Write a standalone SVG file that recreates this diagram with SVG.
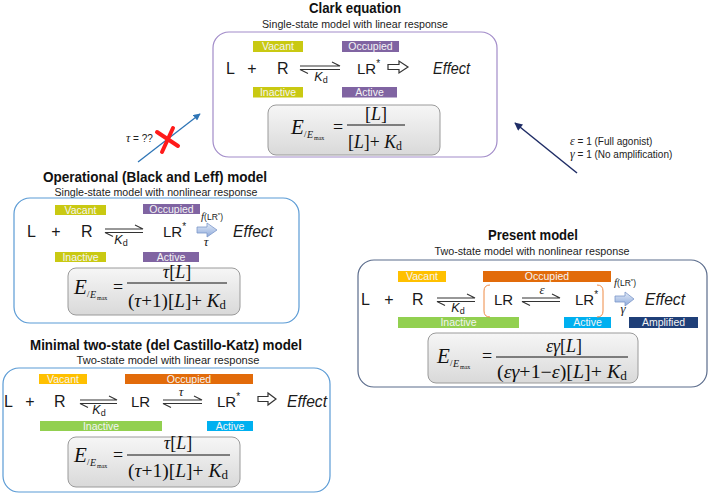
<svg xmlns="http://www.w3.org/2000/svg" width="709" height="494" viewBox="0 0 709 494">
<defs>
<style>
.title{font-family:"Liberation Sans",Arial,sans-serif;font-weight:bold;font-size:15px;fill:#111;text-anchor:middle}
.sub{font-family:"Liberation Sans",Arial,sans-serif;font-size:10.5px;fill:#222;text-anchor:middle}
.lab{font-family:"Liberation Sans",Arial,sans-serif;font-size:10.5px;fill:#f4f4f4;text-anchor:middle}
.row{font-family:"Liberation Sans",Arial,sans-serif;font-size:16px;fill:#1a1a1a}
.lr{font-size:15px}
.mid{text-anchor:middle}
.eff{font-family:"Liberation Sans",Arial,sans-serif;font-style:italic;font-size:17px;fill:#1a1a1a}
.kd{font-family:"Liberation Sans",Arial,sans-serif;font-size:12.5px;fill:#1a1a1a;text-anchor:middle}
.gk{font-family:"Liberation Serif","Times New Roman",serif;font-style:italic;font-size:13px;fill:#1a1a1a;text-anchor:middle}
.fl{font-family:"Liberation Serif","Times New Roman",serif;font-size:10px;fill:#1a1a1a;text-anchor:middle}
.m{font-family:"Liberation Serif","Times New Roman",serif;font-size:18px;fill:#111}
.s9{font-size:9px}
.s10{font-size:10px}
.s6{font-size:6px}
.mE{font-family:"Liberation Serif","Times New Roman",serif;font-style:italic;font-size:21px;fill:#111}
.note{font-family:"Liberation Sans",Arial,sans-serif;font-size:10px;fill:#222}
.eq{fill:none;stroke:#333;stroke-width:1.1}
.fbox{fill:url(#gbox);stroke:#9a9a9a;stroke-width:1}
.hol{fill:#fff;stroke:#333;stroke-width:1.2;stroke-linejoin:miter}
.fat{fill:url(#gfat);stroke:#7c97c9;stroke-width:0.8}
.frac{stroke:#111;stroke-width:1}
.brk{fill:none;stroke:#ee8a45;stroke-width:1}
.i{font-style:italic}
</style>
<linearGradient id="gbox" x1="0" y1="0" x2="0" y2="1">
<stop offset="0" stop-color="#f6f6f6"/>
<stop offset="1" stop-color="#d9d9d9"/>
</linearGradient>
<linearGradient id="gfat" x1="0" y1="0" x2="0" y2="1">
<stop offset="0" stop-color="#e4ecf8"/>
<stop offset="1" stop-color="#8eaadb"/>
</linearGradient>
<marker id="ahB" viewBox="0 0 10 10" refX="9" refY="5" markerWidth="8" markerHeight="7" markerUnits="userSpaceOnUse" orient="auto">
<path d="M0,0 L10,5 L0,10 z" fill="#2e75b6"/>
</marker>
<marker id="ahN" viewBox="0 0 10 10" refX="9" refY="5" markerWidth="9" markerHeight="8" markerUnits="userSpaceOnUse" orient="auto">
<path d="M0,0 L10,5 L0,10 z" fill="#1f2d66"/>
</marker>
</defs>
<rect width="709" height="494" fill="#fff"/>

<!-- Clark equation -->
<g id="clark">
<text class="title" x="355" y="13" textLength="92" lengthAdjust="spacingAndGlyphs">Clark equation</text>
<text class="sub" x="355" y="28" textLength="186" lengthAdjust="spacingAndGlyphs">Single-state model with linear response</text>
<rect x="213" y="32" width="284" height="125" rx="16" fill="none" stroke="#a28cc9" stroke-width="1.2"/>
<rect x="253" y="41" width="50" height="11" fill="#c9c912"/>
<text class="lab" x="278" y="50">Vacant</text>
<rect x="342" y="41" width="57" height="11" fill="#8064a2"/>
<text class="lab" x="370.5" y="50">Occupied</text>
<rect x="253" y="87" width="50" height="10.5" fill="#c9c912"/>
<text class="lab" x="278" y="96">Inactive</text>
<rect x="342" y="87" width="55" height="10.5" fill="#8064a2"/>
<text class="lab" x="369.5" y="96">Active</text>
<text class="row" x="226" y="74">L</text>
<text class="row mid" x="252" y="74">+</text>
<text class="row" x="277" y="74">R</text>
<path class="eq" d="M300,66 L340,66 L332,62 M340,69.5 L300,69.5 L308,73.5"/>
<text class="kd" x="321" y="81"><tspan class="i">K</tspan><tspan font-size="9" dy="2">d</tspan></text>
<text class="row lr" x="357" y="74">LR<tspan font-size="10" dy="-7">*</tspan></text>
<path class="hol" d="M388,64.5 L399,64.5 L399,61 L408,67 L399,73 L399,69.5 L388,69.5 Z"/>
<text class="eff" x="433" y="74" textLength="37" lengthAdjust="spacingAndGlyphs">Effect</text>
<rect class="fbox" x="268" y="105" width="172" height="50" rx="8"/>
<text class="mE" x="291" y="134">E</text>
<text class="m s9" x="304" y="137">/</text>
<text class="m i s10" x="307" y="138">E</text>
<text class="m s6" x="314" y="140">max</text>
<text class="m" x="333" y="133">=</text>
<line class="frac" x1="347" y1="125" x2="405" y2="125"/>
<text class="m mid" x="376" y="120">[<tspan class="i">L</tspan>]</text>
<text class="m" x="348" y="148" textLength="54" lengthAdjust="spacingAndGlyphs">[<tspan class="i">L</tspan>]+ <tspan class="i">K</tspan><tspan font-size="12" dy="2">d</tspan></text>
</g>

<!-- Operational model -->
<g id="operational">
<text class="title" x="155" y="182" textLength="224" lengthAdjust="spacingAndGlyphs">Operational (Black and Leff) model</text>
<text class="sub" x="156" y="196" textLength="203" lengthAdjust="spacingAndGlyphs">Single-state model with nonlinear response</text>
<rect x="14" y="198" width="285" height="125" rx="16" fill="none" stroke="#5b9bd5" stroke-width="1.2"/>
<rect x="55" y="205" width="51" height="10" fill="#c9c912"/>
<text class="lab" x="80.5" y="213.5">Vacant</text>
<rect x="143" y="204" width="57" height="10" fill="#8064a2"/>
<text class="lab" x="171.5" y="212.5">Occupied</text>
<rect x="55" y="252" width="51" height="10" fill="#c9c912"/>
<text class="lab" x="80.5" y="260.5">Inactive</text>
<rect x="143" y="252" width="56" height="10" fill="#8064a2"/>
<text class="lab" x="171" y="260.5">Active</text>
<text class="row" x="27" y="237">L</text>
<text class="row mid" x="56" y="237">+</text>
<text class="row" x="81" y="237">R</text>
<path class="eq" d="M105,229 L143,229 L135,225 M143,232.5 L105,232.5 L113,236.5"/>
<text class="kd" x="121" y="244"><tspan class="i">K</tspan><tspan font-size="9" dy="2">d</tspan></text>
<text class="row lr" x="163" y="237">LR<tspan font-size="10" dy="-7">*</tspan></text>
<text class="fl" x="212" y="220"><tspan class="i" font-size="11">f</tspan><tspan font-family="Liberation Sans, Arial, sans-serif" font-size="8.5">(LR<tspan font-size="6" dy="-3">*</tspan><tspan dy="3">)</tspan></tspan></text>
<path class="fat" d="M197,227 L207,227 L207,223 L217,230 L207,237 L207,233 L197,233 Z"/>
<text class="gk" x="206" y="246">τ</text>
<text class="eff" x="233" y="237" textLength="40" lengthAdjust="spacingAndGlyphs">Effect</text>
<rect class="fbox" x="68" y="268" width="172" height="47" rx="8"/>
<text class="mE" x="74" y="294">E</text>
<text class="m s9" x="87" y="297">/</text>
<text class="m i s10" x="90" y="298">E</text>
<text class="m s6" x="97" y="300">max</text>
<text class="m" x="113" y="293">=</text>
<line class="frac" x1="127" y1="283" x2="227" y2="283"/>
<text class="m mid" x="177" y="278"><tspan class="i">τ</tspan>[<tspan class="i">L</tspan>]</text>
<text class="m" x="128" y="307" textLength="98" lengthAdjust="spacingAndGlyphs">(<tspan class="i">τ</tspan>+1)[<tspan class="i">L</tspan>]+ <tspan class="i">K</tspan><tspan font-size="12" dy="2">d</tspan></text>
</g>

<!-- Minimal two-state model -->
<g id="minimal">
<text class="title" x="166" y="350" textLength="272" lengthAdjust="spacingAndGlyphs">Minimal two-state (del Castillo-Katz) model</text>
<text class="sub" x="168" y="364" textLength="183" lengthAdjust="spacingAndGlyphs">Two-state model with linear response</text>
<rect x="3" y="368" width="327" height="124" rx="16" fill="none" stroke="#5b9bd5" stroke-width="1.2"/>
<rect x="39" y="374" width="48" height="10" fill="#ffc000"/>
<text class="lab" x="63" y="382.5">Vacant</text>
<rect x="125" y="374" width="128" height="10" fill="#e26b0a"/>
<text class="lab" x="189" y="382.5">Occupied</text>
<rect x="40" y="421" width="122" height="10" fill="#92d050"/>
<text class="lab" x="101" y="429.5">Inactive</text>
<rect x="207" y="421" width="46" height="10" fill="#00b0f0"/>
<text class="lab" x="230" y="429.5">Active</text>
<text class="row" x="4" y="407">L</text>
<text class="row mid" x="30" y="407">+</text>
<text class="row" x="54" y="407">R</text>
<path class="eq" d="M80,400 L117,400 L109,396 M117,403.5 L80,403.5 L88,407.5"/>
<text class="kd" x="99" y="414"><tspan class="i">K</tspan><tspan font-size="9" dy="2">d</tspan></text>
<text class="row lr" x="131" y="407">LR</text>
<path class="eq" d="M163,400 L202,400 L194,396 M202,403.5 L163,403.5 L171,407.5"/>
<text class="gk" x="181" y="396">τ</text>
<text class="row lr" x="217" y="407">LR<tspan font-size="10" dy="-7">*</tspan></text>
<path class="hol" d="M258,396.5 L268,396.5 L268,393 L276,399 L268,405 L268,401.5 L258,401.5 Z"/>
<text class="eff" x="287" y="407" textLength="40" lengthAdjust="spacingAndGlyphs">Effect</text>
<rect class="fbox" x="68" y="437" width="172" height="50" rx="8"/>
<text class="mE" x="74" y="462">E</text>
<text class="m s9" x="87" y="465">/</text>
<text class="m i s10" x="90" y="466">E</text>
<text class="m s6" x="97" y="468">max</text>
<text class="m" x="113" y="461">=</text>
<line class="frac" x1="127" y1="455" x2="230" y2="455"/>
<text class="m mid" x="178" y="449"><tspan class="i">τ</tspan>[<tspan class="i">L</tspan>]</text>
<text class="m" x="128" y="477" textLength="100" lengthAdjust="spacingAndGlyphs">(<tspan class="i">τ</tspan>+1)[<tspan class="i">L</tspan>]+ <tspan class="i">K</tspan><tspan font-size="12" dy="2">d</tspan></text>
</g>

<!-- Present model -->
<g id="present">
<text class="title" x="533" y="240" textLength="90" lengthAdjust="spacingAndGlyphs">Present model</text>
<text class="sub" x="532" y="255" textLength="195" lengthAdjust="spacingAndGlyphs">Two-state model with nonlinear response</text>
<rect x="358" y="260" width="349" height="127" rx="16" fill="none" stroke="#5b6c8c" stroke-width="1.2"/>
<rect x="398" y="271" width="48" height="11" fill="#ffc000"/>
<text class="lab" x="422" y="280">Vacant</text>
<rect x="483" y="271" width="128" height="11" fill="#e26b0a"/>
<text class="lab" x="547" y="280">Occupied</text>
<rect x="398" y="317" width="121" height="11" fill="#92d050"/>
<text class="lab" x="458.5" y="326">Inactive</text>
<rect x="564" y="317" width="47" height="11" fill="#00b0f0"/>
<text class="lab" x="587.5" y="326">Active</text>
<rect x="629" y="317" width="69" height="11" fill="#1f3f78"/>
<text class="lab" x="663.5" y="326">Amplified</text>
<text class="row" x="361" y="305">L</text>
<text class="row mid" x="389" y="305">+</text>
<text class="row" x="412" y="305">R</text>
<path class="eq" d="M437,298 L475,298 L467,294 M475,301.5 L437,301.5 L445,305.5"/>
<text class="kd" x="458" y="312"><tspan class="i">K</tspan><tspan font-size="9" dy="2">d</tspan></text>
<path class="brk" d="M490,285 Q484,285 484,291 L484,311 Q484,317 490,317"/>
<text class="row lr" x="494" y="305">LR</text>
<path class="eq" d="M522,298 L560,298 L552,294 M560,301.5 L522,301.5 L530,305.5"/>
<text class="gk" x="542" y="294">ε</text>
<text class="row lr" x="575" y="305">LR<tspan font-size="10" dy="-7">*</tspan></text>
<path class="brk" d="M597,285 Q603,285 603,291 L603,311 Q603,317 597,317"/>
<text class="fl" x="625" y="286"><tspan class="i" font-size="11">f</tspan><tspan font-family="Liberation Sans, Arial, sans-serif" font-size="8.5">(LR<tspan font-size="6" dy="-3">*</tspan><tspan dy="3">)</tspan></tspan></text>
<path class="fat" d="M615,296 L625,296 L625,292 L634,299 L625,306 L625,302 L615,302 Z"/>
<text class="gk" x="623" y="313">γ</text>
<text class="eff" x="645" y="305" textLength="40" lengthAdjust="spacingAndGlyphs">Effect</text>
<rect class="fbox" x="428" y="333" width="210" height="50" rx="8"/>
<text class="mE" x="437" y="363">E</text>
<text class="m s9" x="450" y="366">/</text>
<text class="m i s10" x="453" y="367">E</text>
<text class="m s6" x="460" y="369">max</text>
<text class="m" x="482" y="362">=</text>
<line class="frac" x1="496" y1="357" x2="628" y2="357"/>
<text class="m mid" x="564" y="352"><tspan class="i">εγ</tspan>[<tspan class="i">L</tspan>]</text>
<text class="m" x="497" y="378" textLength="130" lengthAdjust="spacingAndGlyphs">(<tspan class="i">εγ</tspan>+1−<tspan class="i">ε</tspan>)[<tspan class="i">L</tspan>]+ <tspan class="i">K</tspan><tspan font-size="12" dy="2">d</tspan></text>
</g>

<!-- Connectors -->
<g id="connectors">
<line x1="138" y1="162" x2="200" y2="114" stroke="#2e75b6" stroke-width="1.3" marker-end="url(#ahB)"/>
<text class="note" x="126" y="142"><tspan font-family="Liberation Serif, serif" font-style="italic" font-size="12">τ</tspan> = ??</text>
<path d="M157,132 L178,146 M173,128 L162,152" stroke="#ff1a1a" stroke-width="4" stroke-linecap="round" fill="none"/>
<line x1="577" y1="173" x2="515" y2="123" stroke="#1f2d66" stroke-width="1.5" marker-end="url(#ahN)"/>
<text class="note" x="570" y="145"><tspan font-family="Liberation Serif, serif" font-style="italic" font-size="12">ε</tspan> = 1 (Full agonist)</text>
<text class="note" x="570" y="158"><tspan font-family="Liberation Serif, serif" font-style="italic" font-size="12">γ</tspan> = 1 (No amplification)</text>
</g>
</svg>
